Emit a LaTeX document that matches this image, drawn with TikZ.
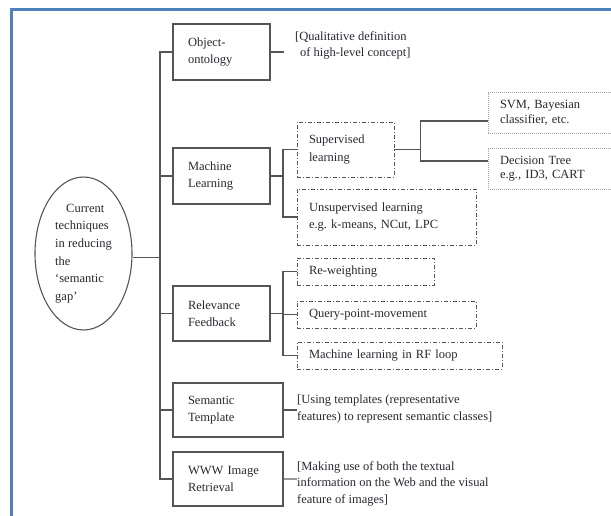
\documentclass[tikz,border=0pt]{standalone}
\usepackage{fontspec}
\setmainfont{Liberation Serif}
\usetikzlibrary{shapes.geometric}
\definecolor{frameblue}{RGB}{79,129,189}
\definecolor{ink}{RGB}{40,40,50}
\definecolor{edge}{RGB}{85,85,85}
\begin{document}
\begin{tikzpicture}[x=1pt,y=-1pt,
  every node/.style={font=\fontsize{12.5}{17.5}\selectfont, text=ink},
  solidbox/.style={draw=edge, line width=1.1pt, rectangle, inner xsep=15pt, inner ysep=0pt, align=left},
  dashbox/.style={draw=edge, line width=0.9pt, dash pattern=on 4pt off 2pt on 1pt off 2pt, rectangle, inner xsep=12pt, inner ysep=0pt, align=left},
  dotbox/.style={draw=gray!70, line width=0.8pt, dash pattern=on 1pt off 1pt, rectangle, inner xsep=12pt, inner ysep=0pt, align=left, font=\fontsize{12.5}{14.5}\selectfont},
  link/.style={draw=edge, line width=1.1pt},
  note/.style={inner sep=0pt, align=left, anchor=west}
]
\useasboundingbox (0,0) rectangle (611,516);
\clip (0,0) rectangle (611,516);
\draw[frameblue, line width=2.2pt] (11.5,520) -- (11.5,9.5) -- (620,9.5);

% root
\node[ellipse, draw=edge, line width=1.1pt, minimum width=97pt, minimum height=153pt, inner sep=0pt, align=left, font=\fontsize{12.5}{17.6}\selectfont] (cur) at (83.5,253.5)
  {\hspace*{11pt}Current\\techniques\\in reducing\\the\\‘semantic\\gap’};

% first level
\node[solidbox, text width=67pt, minimum height=56pt] (obj) at (221.5,52) {Object-\\ontology};
\node[solidbox, text width=67pt, minimum height=56pt] (ml) at (221.5,176) {Machine\\Learning};
\node[solidbox, text width=67pt, minimum height=55pt] (rf) at (221.5,313.5) {Relevance\\Feedback};
\node[solidbox, text width=80pt, minimum height=54pt] (st) at (228,410) {Semantic\\Template};
\node[solidbox, text width=80pt, minimum height=54pt] (www) at (228,479) {WWW Image\\Retrieval};

% second level
\node[dashbox, text width=73pt, minimum height=55pt] (sup) at (345.5,149.5) {Supervised\\learning};
\node[dashbox, text width=155pt, minimum height=56pt] (unsup) at (386.5,217) {Unsupervised learning\\e.g.\ k-means, NCut, LPC};
\node[dashbox, text width=113pt, minimum height=27pt] (rw) at (365.5,271.5) {Re-weighting};
\node[dashbox, text width=155pt, minimum height=27pt] (qpm) at (386.5,314.5) {Query-point-movement};
\node[dashbox, text width=181pt, minimum height=27pt] (mlrf) at (399.5,355.5) {Machine learning in RF loop};

% third level
\node[dotbox, text width=110pt, minimum height=40.5pt] (svm) at (555,113) {SVM, Bayesian\\classifier, etc.};
\node[dotbox, text width=110pt, minimum height=41pt] (dt) at (555,168.5) {Decision Tree\\e.g., ID3, CART};

% notes
\node[note, font=\fontsize{12.5}{15.5}\selectfont] (objnote) at (295,45.5) {[Qualitative definition\\\hspace*{5pt}of high-level concept]};
\node[note, font=\fontsize{12.5}{17}\selectfont] (stnote) at (297,408.5) {[Using templates (representative\\features) to represent semantic classes]};
\node[note, font=\fontsize{12.5}{16.5}\selectfont] (wwwnote) at (297,483.5) {[Making use of both the textual\\information on the Web and the visual\\feature of images]};

% coordinates
\coordinate (t) at (160,0);
\coordinate (m) at (283,0);
\coordinate (s) at (420.5,0);
\coordinate (ce) at ([yshift=-4pt]cur.east);
\coordinate (svmin) at ([yshift=-8pt]svm.west);
\coordinate (dtin) at ([yshift=7.5pt]dt.west);
\coordinate (oe) at ([xshift=-11pt]objnote.west);

% trunk
\draw[link] (obj.west) -| (t |- www.west) -- (www.west);
\draw[link] (ml.west) -- (ml.west -| t);
\draw[link] (rf.west) -- (rf.west -| t);
\draw[link] (st.west) -- (st.west -| t);
\draw[link] (ce) -- (ce -| t);

% machine learning
\draw[link] (ml.east) -- (ml.east -| m);
\draw[link] (sup.west) -- (sup.west -| m) -- (m |- unsup.west) -- (unsup.west);
\draw[link] (sup.east) -- (sup.east -| s);
\draw[link] (svmin) -| (s |- dtin) -- (dtin);

% relevance feedback
\draw[link] (rf.east) -- (rf.east -| m);
\draw[link] (rw.west) -- (rw.west -| m) -- (m |- mlrf.west) -- (mlrf.west);
\draw[link] (qpm.west) -- (qpm.west -| m);

% notes
\draw[link] (obj.east) -- (obj.east -| oe);
\draw[link] (st.east) -- (st.east -| stnote.west);
\draw[link, draw=gray!80] (www.east) -- (www.east -| wwwnote.west);
\end{tikzpicture}
\end{document}
